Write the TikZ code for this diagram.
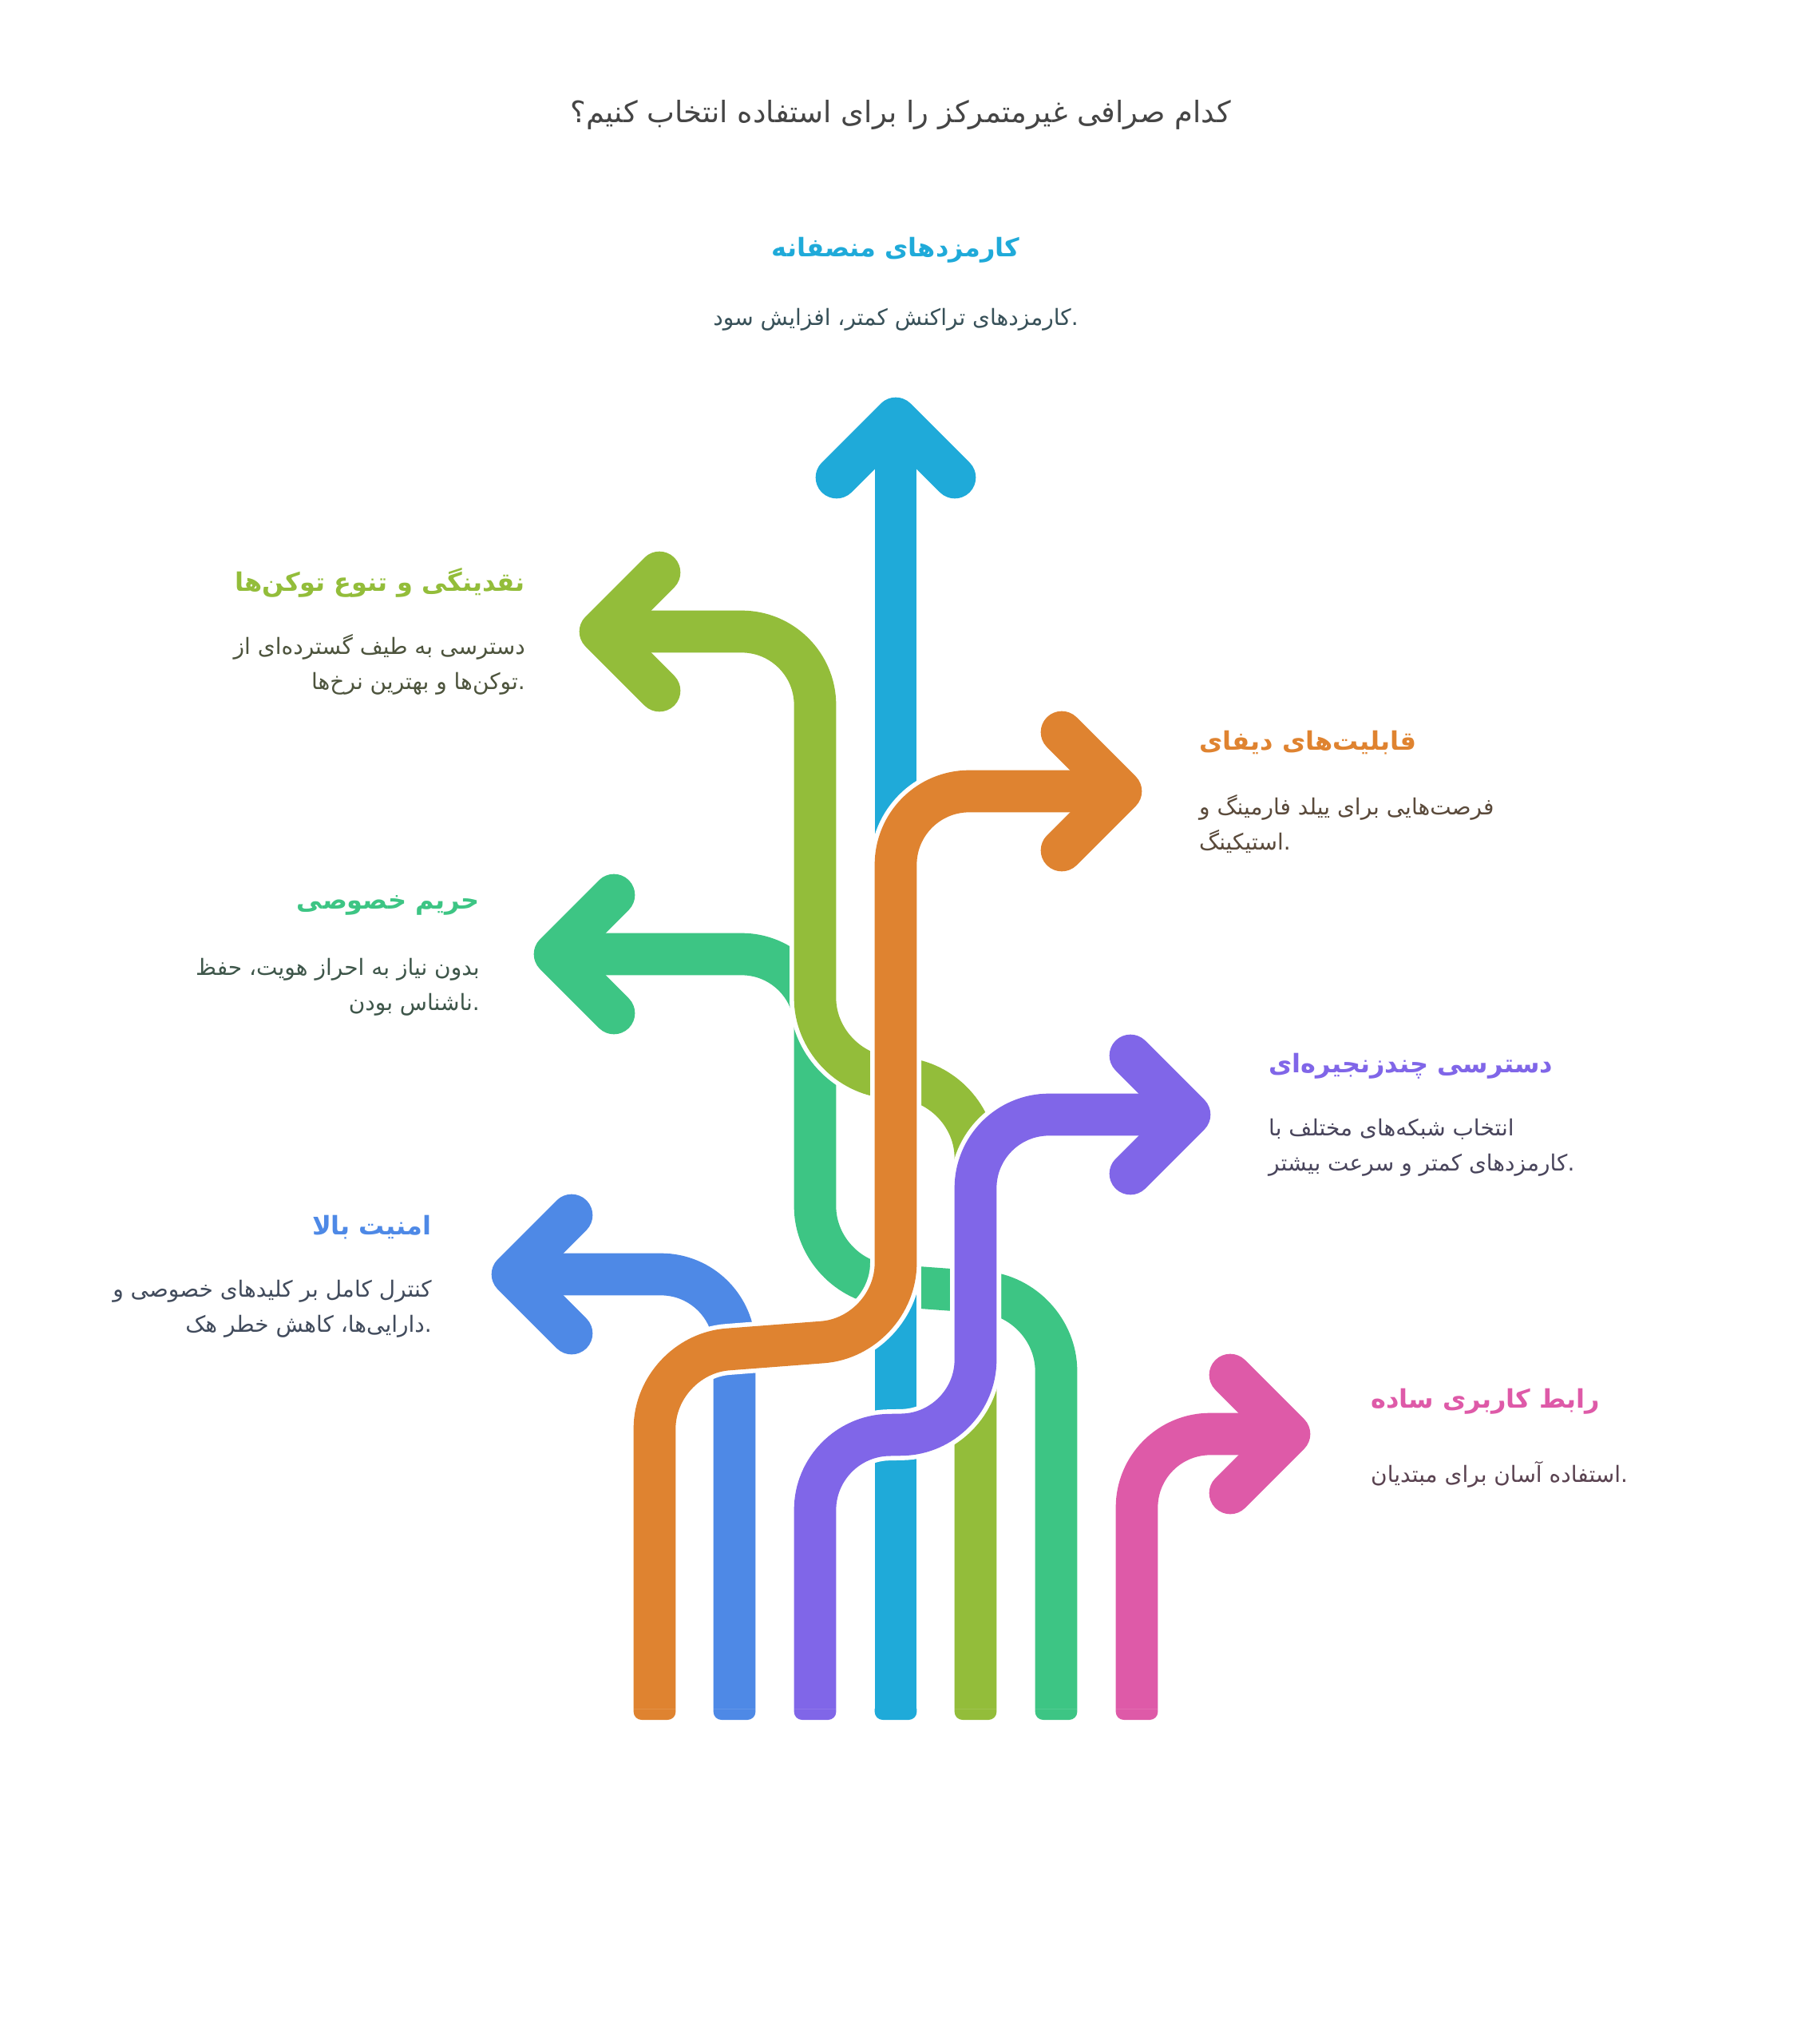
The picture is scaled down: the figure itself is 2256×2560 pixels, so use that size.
\documentclass[tikz,border=0pt]{standalone}
\usepackage{fontspec}
\newfontfamily\arabicfont[Script=Arabic]{DejaVu Sans}
\TeXXeTstate=1
\definecolor{cyanC}{HTML}{1FAAD9}
\definecolor{oliveC}{HTML}{93BD3A}
\definecolor{orangeC}{HTML}{DF8330}
\definecolor{tealC}{HTML}{3DC584}
\definecolor{purpleC}{HTML}{8066E8}
\definecolor{blueC}{HTML}{4E89E6}
\definecolor{pinkC}{HTML}{DE5AA8}
\definecolor{titleC}{HTML}{454545}
\tikzset{
  lanepath/.style={draw=#1, line width=52.7pt, rounded corners=92pt, preaction={draw=white, line width=64pt}},
  chevron/.style={draw=#1, line width=52.7pt, line cap=round, line join=round},
  headtxt/.style={font=\arabicfont\bfseries\fontsize{32}{40}\selectfont, text=#1, inner sep=0pt},
  desctxt/.style={font=\arabicfont\fontsize{28}{44}\selectfont, text=#1!22!black!80!white, inner sep=0pt},
}
\begin{document}
\begin{tikzpicture}[x=1pt,y=-1pt]
    \useasboundingbox (0,0) rectangle (2256,2560);
    \coordinate (orangeB) at (820,2140);
    \coordinate (blueB) at (920,2140);
    \coordinate (purpleB) at (1021,2140);
    \coordinate (cyanB) at (1122,2140);
    \coordinate (oliveB) at (1222,2140);
    \coordinate (tealB) at (1323,2140);
    \coordinate (pinkB) at (1424,2140);
    \coordinate (cyanT) at (1122,524);
    \coordinate (oliveT) at (752,791);
    \coordinate (orangeT) at (1404,991);
    \coordinate (tealT) at (695,1195);
    \coordinate (purpleT) at (1490,1396);
    \coordinate (blueT) at (642,1596);
    \coordinate (pinkT) at (1615,1796);

    \foreach \c/\b in {orangeC/orangeB, blueC/blueB, purpleC/purpleB, cyanC/cyanB, oliveC/oliveB, tealC/tealB, pinkC/pinkB}
        \fill[\c, rounded corners=10pt] ([shift={(-26.35,-30)}]\b) rectangle ([shift={(26.35,14)}]\b);

    \draw[lanepath=tealC] (tealB) -- (1323,1625) -- (1021,1603) -- (1021,1195) -- (tealT);
    \draw[chevron=tealC] ([shift={(74,-74)}]tealT) -- (tealT) -- ([shift={(74,74)}]tealT);
    \draw[lanepath=cyanC] (cyanB) -- (cyanT);
    \draw[chevron=cyanC] ([shift={(-74,74)}]cyanT) -- (cyanT) -- ([shift={(74,74)}]cyanT);
    \draw[lanepath=oliveC] (oliveB) -- (1222,1358) -- (1021,1342) -- (1021,791) -- (oliveT);
    \draw[chevron=oliveC] ([shift={(74,-74)}]oliveT) -- (oliveT) -- ([shift={(74,74)}]oliveT);
    \draw[lanepath=blueC] (blueB) -- (920,1596) -- (blueT);
    \draw[chevron=blueC] ([shift={(74,-74)}]blueT) -- (blueT) -- ([shift={(74,74)}]blueT);
    \draw[lanepath=purpleC] (purpleB) -- (1021,1799) -- (1222,1795) -- (1222,1396) -- (purpleT);
    \draw[chevron=purpleC] ([shift={(-74,-74)}]purpleT) -- (purpleT) -- ([shift={(-74,74)}]purpleT);
    \draw[lanepath=orangeC] (orangeB) -- (820,1697) -- (1122,1674) -- (1122,991) -- (orangeT);
    \draw[chevron=orangeC] ([shift={(-74,-74)}]orangeT) -- (orangeT) -- ([shift={(-74,74)}]orangeT);
    \draw[lanepath=pinkC] (pinkB) -- (1424,1796) -- (pinkT);
    \draw[chevron=pinkC] ([shift={(-74,-74)}]pinkT) -- (pinkT) -- ([shift={(-74,74)}]pinkT);

    \node[font=\arabicfont\fontsize{37}{44}\selectfont, text=titleC, inner sep=0pt] (title) at (1128,144) {\beginR کدام صرافی غیرمتمرکز را برای استفاده انتخاب کنیم؟\endR};

    \node[headtxt=cyanC] (cyanH) at (1122,313) {\beginR کارمزدهای منصفانه\endR};
    \node[desctxt=cyanC] (cyanD) at (1122,400) {\beginR کارمزدهای تراکنش کمتر، افزایش سود\endR.};

    \node[headtxt=oliveC, anchor=east] (oliveH) at (658,730) {\beginR نقدینگی و تنوع توکن^^^^200cها\endR};
    \node[desctxt=oliveC, anchor=east, align=right] (oliveD) at (658,832) {\beginR دسترسی به طیف گسترده^^^^200cای از\endR\\\beginR توکن^^^^200cها و بهترین نرخ^^^^200cها\endR.};

    \node[headtxt=orangeC, anchor=west] (orangeH) at (1502,930) {\beginR قابلیت^^^^200cهای دیفای\endR};
    \node[desctxt=orangeC, anchor=west, align=left] (orangeD) at (1502,1032) {\beginR فرصت^^^^200cهایی برای ییلد فارمینگ و\endR\\\beginR استیکینگ\endR.};

    \node[headtxt=tealC, anchor=east] (tealH) at (601,1134) {\beginR حریم خصوصی\endR};
    \node[desctxt=tealC, anchor=east, align=right] (tealD) at (601,1236) {\beginR بدون نیاز به احراز هویت، حفظ\endR\\\beginR ناشناس بودن\endR.};

    \node[headtxt=purpleC, anchor=west] (purpleH) at (1589,1335) {\beginR دسترسی چندزنجیره^^^^200cای\endR};
    \node[desctxt=purpleC, anchor=west, align=left] (purpleD) at (1589,1437) {\beginR انتخاب شبکه^^^^200cهای مختلف با\endR\\\beginR کارمزدهای کمتر و سرعت بیشتر\endR.};

    \node[headtxt=blueC, anchor=east] (blueH) at (541,1537) {\beginR امنیت بالا\endR};
    \node[desctxt=blueC, anchor=east, align=right] (blueD) at (541,1639) {\beginR کنترل کامل بر کلیدهای خصوصی و\endR\\\beginR دارایی^^^^200cها، کاهش خطر هک\endR.};

    \node[headtxt=pinkC, anchor=west] (pinkH) at (1717,1755) {\beginR رابط کاربری ساده\endR};
    \node[desctxt=pinkC, anchor=west] (pinkD) at (1717,1847) {\beginR استفاده آسان برای مبتدیان\endR.};
\end{tikzpicture}
\end{document}
